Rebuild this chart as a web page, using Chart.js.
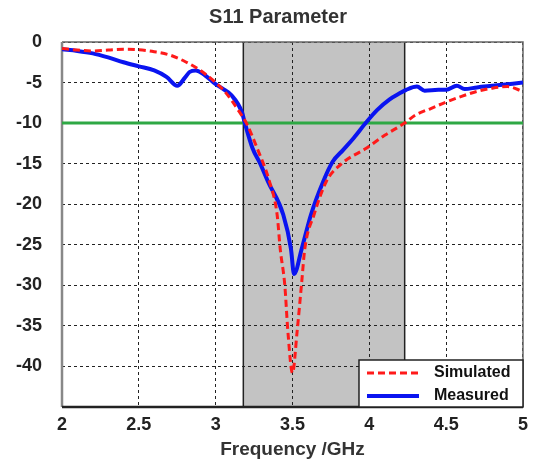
<!DOCTYPE html>
<html>
<head>
<meta charset="utf-8">
<title>S11 Parameter</title>
<script src="https://cdn.jsdelivr.net/npm/chart.js@4.4.0/dist/chart.umd.min.js"></script>
<style>
  html, body { margin: 0; padding: 0; background: #fff; }
  #wrap { width: 535px; height: 463px; }
</style>
</head>
<body>
<div id="wrap"><canvas id="s11"></canvas></div>
<script>
// frequency points (GHz) and S11 (dB)
const simFreq = [2.0, 2.1, 2.2, 2.3, 2.4, 2.5, 2.6, 2.7, 2.8, 2.9, 3.0, 3.05, 3.1, 3.15, 3.2, 3.27, 3.35, 3.4, 3.42, 3.45, 3.47, 3.5, 3.53, 3.56, 3.58, 3.64, 3.72, 3.82, 3.98, 4.1, 4.23, 4.3, 4.4, 4.5, 4.6, 4.7, 4.8, 4.9, 5.0];
const simS11 = [-0.8, -1.0, -1.1, -1.0, -0.9, -0.95, -1.2, -1.6, -2.4, -3.5, -5.0, -5.9, -7.1, -8.5, -10.0, -13.1, -17.2, -21.3, -25.5, -30.0, -35.7, -40.8, -35.7, -29.6, -25.5, -21.3, -17.2, -15.0, -13.1, -11.5, -10.0, -9.0, -8.2, -7.4, -6.7, -6.1, -5.7, -5.5, -6.1];

const measFreq = [2.0, 2.1, 2.2, 2.3, 2.4, 2.5, 2.6, 2.68, 2.75, 2.8, 2.83, 2.87, 2.93, 3.0, 3.05, 3.1, 3.17, 3.19, 3.24, 3.29, 3.34, 3.44, 3.49, 3.51, 3.56, 3.62, 3.7, 3.76, 3.83, 3.9, 3.98, 4.05, 4.13, 4.2, 4.24, 4.31, 4.36, 4.45, 4.5, 4.57, 4.62, 4.7, 4.8, 4.9, 5.0];
const measS11 = [-0.9, -1.1, -1.4, -1.9, -2.5, -3.0, -3.5, -4.3, -5.4, -4.4, -3.7, -3.5, -4.1, -5.2, -5.8, -6.5, -8.6, -10.0, -13.1, -15.0, -17.2, -21.3, -25.5, -28.6, -25.5, -21.3, -17.2, -14.8, -13.3, -11.8, -9.9, -8.4, -7.1, -6.3, -5.9, -5.5, -6.0, -5.9, -5.9, -5.4, -5.8, -5.6, -5.4, -5.2, -5.0];

const refLevel = -10;          // green -10 dB line
const bandFreq = [3.18, 4.23]; // shaded band
const chartTitle = 'S11 Parameter';

const toPoints = (xs, ys) => xs.map((x, i) => ({ x: x, y: ys[i] }));

const s11Plugin = {
    id: 's11Extras',
    beforeDraw(chart) {
        const { ctx, chartArea, scales } = chart;
        const x0 = scales.x.getPixelForValue(bandFreq[0]);
        const x1 = scales.x.getPixelForValue(bandFreq[1]);
        ctx.save();
        ctx.fillStyle = '#c3c3c3';
        ctx.fillRect(x0, chartArea.top, x1 - x0, chartArea.bottom - chartArea.top);
        ctx.strokeStyle = '#222';
        ctx.lineWidth = 1.5;
        ctx.beginPath();
        ctx.moveTo(x0, chartArea.top);
        ctx.lineTo(x0, chartArea.bottom);
        ctx.moveTo(x1, chartArea.top);
        ctx.lineTo(x1, chartArea.bottom);
        ctx.stroke();
        ctx.restore();
    },
    beforeDatasetsDraw(chart) {
        const { ctx, chartArea: a } = chart;
        ctx.save();
        ctx.lineWidth = 1.5;
        ctx.strokeStyle = '#666';
        ctx.beginPath();
        ctx.moveTo(a.left, a.top);
        ctx.lineTo(a.right, a.top);
        ctx.lineTo(a.right, a.bottom);
        ctx.stroke();
        ctx.lineWidth = 2.5;
        ctx.strokeStyle = '#888';
        ctx.beginPath();
        ctx.moveTo(a.left, a.top);
        ctx.lineTo(a.left, a.bottom);
        ctx.stroke();
        ctx.strokeStyle = '#222';
        ctx.beginPath();
        ctx.moveTo(a.left, a.bottom);
        ctx.lineTo(a.right, a.bottom);
        ctx.stroke();
        ctx.restore();
    },
    afterDraw(chart) {
        const { ctx, chartArea: a } = chart;

        // title, sits a bit left of the plot centre like the original
        ctx.save();
        ctx.font = 'bold 20px "Liberation Sans", Arial, sans-serif';
        ctx.fillStyle = '#333';
        ctx.textAlign = 'center';
        ctx.textBaseline = 'middle';
        ctx.fillText(chartTitle, a.left + 216, 17);
        ctx.restore();

        // legend box in the lower right corner
        const items = chart.data.datasets.filter(d => d.label);
        const w = 164, h = 47;
        const left = a.right - w, top = a.bottom - h;
        ctx.save();
        ctx.fillStyle = '#fff';
        ctx.fillRect(left, top, w, h);
        ctx.strokeStyle = '#222';
        ctx.lineWidth = 1.5;
        ctx.strokeRect(left, top, w, h);
        ctx.font = 'bold 16px "Liberation Sans", Arial, sans-serif';
        ctx.textBaseline = 'middle';
        items.forEach((d, i) => {
            const y = top + 13 + i * 23;
            ctx.strokeStyle = d.borderColor;
            ctx.lineWidth = d.borderWidth;
            ctx.setLineDash(d.borderDash || []);
            ctx.beginPath();
            ctx.moveTo(left + 8, y);
            ctx.lineTo(left + 60, y);
            ctx.stroke();
            ctx.setLineDash([]);
            ctx.fillStyle = '#111';
            ctx.fillText(d.label, left + 75, y);
        });
        ctx.restore();
    }
};

const tickFont = { family: '"Liberation Sans", Arial, sans-serif', size: 18, weight: 'bold' };

const config = {
    type: 'line',
    data: {
        datasets: [
            {
                label: 'Simulated',
                data: toPoints(simFreq, simS11),
                borderColor: '#ff1a1a',
                borderWidth: 3,
                borderDash: [7, 4],
                pointRadius: 0,
                cubicInterpolationMode: 'monotone',
                order: 1
            },
            {
                label: 'Measured',
                data: toPoints(measFreq, measS11),
                borderColor: '#0a14f0',
                borderWidth: 4,
                pointRadius: 0,
                cubicInterpolationMode: 'monotone',
                order: 2
            },
            {
                label: '',
                data: [{ x: 2, y: refLevel }, { x: 5, y: refLevel }],
                borderColor: '#2ea844',
                borderWidth: 3,
                pointRadius: 0,
                order: 3
            }
        ]
    },
    options: {
        responsive: true,
        maintainAspectRatio: false,
        animation: false,
        layout: { padding: { left: 0, right: 8, top: 42, bottom: 0 } },
        plugins: {
            legend: { display: false },
            tooltip: { enabled: false },
            title: { display: false }
        },
        scales: {
            x: {
                type: 'linear',
                min: 2,
                max: 5,
                ticks: { stepSize: 0.5, color: '#222', font: tickFont, padding: 7, callback: v => v },
                grid: { color: '#222', lineWidth: 1, drawTicks: false },
                border: { display: false, dash: [3, 3] },
                title: {
                    display: true,
                    text: 'Frequency /GHz',
                    color: '#333',
                    font: { family: '"Liberation Sans", Arial, sans-serif', size: 19, weight: 'bold' },
                    padding: { top: 0, bottom: 2 }
                },
                afterFit(scale) { scale.height = 56; }
            },
            y: {
                min: -45,
                max: 0,
                ticks: {
                    stepSize: 5,
                    color: '#222',
                    font: tickFont,
                    padding: 20,
                    callback: v => (v === -45 ? '' : v)
                },
                grid: { color: '#222', lineWidth: 1, drawTicks: false },
                border: { display: false, dash: [3, 3] },
                afterFit(scale) { scale.width = 62; }
            }
        }
    },
    plugins: [s11Plugin]
};

const s11Chart = new Chart(document.getElementById('s11'), config);
</script>
</body>
</html>
